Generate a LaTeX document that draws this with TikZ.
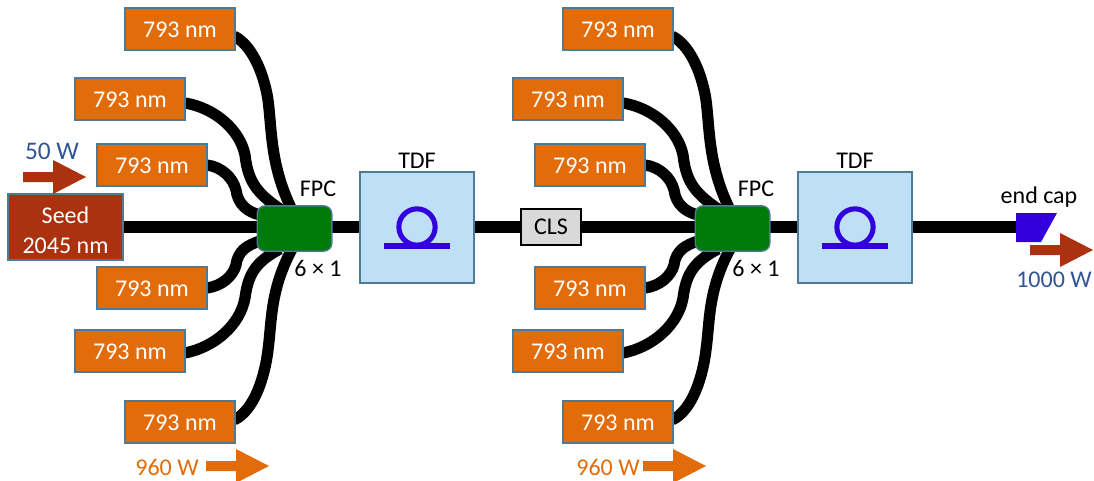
\documentclass[tikz,border=0pt]{standalone}
\usepackage{fontspec}
\setmainfont{Carlito}
\definecolor{pump}{HTML}{E36C0A}
\definecolor{seedc}{HTML}{AB310F}
\definecolor{edgec}{HTML}{4F7A96}
\definecolor{fpcc}{HTML}{007A0A}
\definecolor{tdfc}{HTML}{BFDFF7}
\definecolor{loopc}{HTML}{3300DD}
\definecolor{bluet}{HTML}{2F5597}
\definecolor{clsc}{HTML}{D9D9D9}
\tikzset{
 x=0.75pt,y=-0.75pt,
 lab/.style={font=\fontsize{18}{20}\selectfont,inner sep=0pt,align=center},
 pumpbox/.style={draw=edgec,line width=1.4pt,fill=pump,text=white,minimum width=82pt,minimum height=31pt,inner sep=0pt,text height=13pt,text depth=0pt,font=\fontsize{18}{20}\selectfont},
 seedbox/.style={draw=edgec,line width=1.4pt,fill=seedc,text=white,minimum width=86pt,minimum height=49.5pt,inner sep=0pt,align=center,font=\fontsize{18}{22.5}\selectfont},
 fpcbox/.style={draw=edgec,line width=1pt,fill=fpcc,rounded corners=6pt,minimum width=56pt,minimum height=34pt,inner sep=0pt},
 tdfbox/.style={draw=edgec,line width=1.4pt,fill=tdfc,minimum width=85pt,minimum height=83.5pt,inner sep=0pt},
 clsbox/.style={draw=black,line width=1pt,fill=clsc,minimum width=45pt,minimum height=27pt,inner sep=0pt,font=\fontsize{18}{20}\selectfont},
 fiber/.style={line width=8.4pt,black},
 loopline/.style={line width=3.8pt,loopc},
 redarrow/.style={fill=seedc,draw=none},
 orarrow/.style={fill=pump,draw=none},
}
\newcommand{\blockarrow}[3]{% x,y,style : arrow starting at x, centre y
 \fill[#3] (#1,#2-5) -- (#1+30,#2-5) -- (#1+30,#2-17) -- (#1+63,#2) -- (#1+30,#2+17) -- (#1+30,#2+5) -- (#1,#2+5) -- cycle;}
\begin{document}
\begin{tikzpicture}
\useasboundingbox (0,0) rectangle (1094,481);
\coordinate (mainA) at (123,227);
\coordinate (capin) at (1018,227);
\foreach \dx in {0,438}{
 \begin{scope}[xshift=\dx*0.75pt]
 \draw[fiber] (234,36) .. controls (255,47) and (265,80) .. (268,100) .. controls (272,130) and (270,165) .. (292,210);
 \draw[fiber] (185,103) .. controls (215,108) and (240,130) .. (245,155) .. controls (248,180) and (255,192) .. (280,209);
 \draw[fiber] (207,165) .. controls (222,167) and (233,178) .. (236,190) .. controls (238,205) and (248,212) .. (260,215);
 \draw[fiber] (207,288) .. controls (222,286) and (233,276) .. (236,265) .. controls (238,250) and (248,245) .. (260,241);
 \draw[fiber] (185,353) .. controls (215,347) and (240,325) .. (245,298) .. controls (248,275) and (255,262) .. (280,249);
 \draw[fiber] (234,420) .. controls (255,410) and (265,375) .. (268,350) .. controls (272,320) and (270,290) .. (292,249);
 \end{scope}
}
\draw[fiber] (mainA) -- (capin);
\foreach \s/\dx in {L/0,R/438}{
 \node[pumpbox] (p1\s) at (180+\dx,29) {793 nm};
 \node[pumpbox] (p2\s) at (130+\dx,99) {793 nm};
 \node[pumpbox] (p3\s) at (152+\dx,165) {793 nm};
 \node[pumpbox] (p4\s) at (152+\dx,288) {793 nm};
 \node[pumpbox] (p5\s) at (130+\dx,351) {793 nm};
 \node[pumpbox] (p6\s) at (180+\dx,422) {793 nm};
 \node[fpcbox] (fpc\s) at (294.5+\dx,228.5) {};
 \node[lab] (fl\s) at (318+\dx,189) {FPC};
 \node[lab] (sx\s) at (318+\dx,268) {6 × 1};
 \node[tdfbox] (tdf\s) at (417+\dx,227.5) {};
 \node[lab] (tl\s) at (417+\dx,161) {TDF};
 \draw[loopline] (417+\dx,227) circle (13.6pt);
 \draw[loopline] (384+\dx,246) -- (450+\dx,246);
}
\node[seedbox] (seed) at (65.5,227) {\rule{0pt}{17pt}Seed\\2045 nm};
\node[clsbox] (cls) at (551,227) {CLS};
\fill[loopc] (1016,213) -- (1057,213) -- (1041,242) -- (1016,242) -- cycle;
\node[lab] (ec) at (1039,197) {end cap};
\blockarrow{23}{177}{redarrow}
\blockarrow{1030}{250}{redarrow}
\blockarrow{206}{466}{orarrow}
\blockarrow{643}{466}{orarrow}
\node[lab,text=bluet,font=\fontsize{19}{20}\selectfont] (w50) at (52,151) {50 W};
\node[lab,text=bluet] (w1000) at (1054,280) {1000 W};
\node[lab,text=pump] (w960a) at (167,467) {960 W};
\node[lab,text=pump] (w960b) at (608,467) {960 W};
\end{tikzpicture}
\end{document}
